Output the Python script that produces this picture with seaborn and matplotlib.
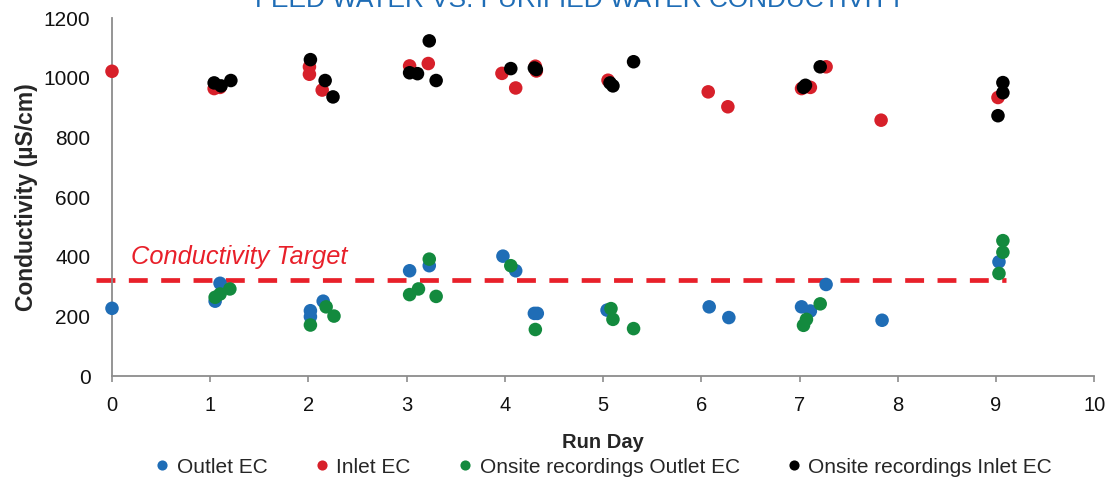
import matplotlib
matplotlib.use("Agg")
import matplotlib.pyplot as plt
import pandas as pd
import seaborn as sns

# data
outlet_day = [0.0, 1.05, 1.10, 2.02, 2.02, 2.15, 3.03, 3.23, 3.98, 4.11, 4.30, 4.33,
              5.04, 6.08, 6.28, 7.02, 7.11, 7.27, 7.84, 9.03]
outlet_ec = [227, 251, 311, 219, 199, 251, 353, 370, 402, 353, 210, 210,
             221, 232, 196, 232, 218, 307, 187, 383]

inlet_day = [0.0, 1.04, 1.10, 2.01, 2.01, 2.14, 3.03, 3.22, 3.97, 4.11, 4.31, 4.32,
             5.05, 6.07, 6.27, 7.02, 7.11, 7.27, 7.83, 9.02]
inlet_ec = [1022, 964, 968, 1037, 1012, 959, 1040, 1048, 1015, 966, 1039, 1023,
            992, 953, 903, 964, 968, 1037, 858, 934]

onsite_out_day = [1.05, 1.10, 1.20, 2.02, 2.18, 2.26, 3.03, 3.12, 3.23, 3.30, 4.06, 4.31,
                  5.08, 5.10, 5.31, 7.04, 7.07, 7.21, 9.03, 9.07, 9.07]
onsite_out_ec = [264, 275, 292, 171, 232, 201, 273, 292, 392, 267, 370, 156,
                 226, 190, 159, 170, 190, 242, 344, 415, 454]

onsite_in_day = [1.04, 1.11, 1.21, 2.02, 2.17, 2.25, 3.03, 3.11, 3.23, 3.30, 4.06, 4.30, 4.32,
                 5.07, 5.10, 5.31, 7.04, 7.06, 7.21, 9.07, 9.07, 9.02]
onsite_in_ec = [983, 973, 991, 1061, 991, 936, 1017, 1014, 1124, 991, 1031, 1033, 1028,
                983, 973, 1054, 968, 975, 1037, 984, 950, 873]

series_names = ["Outlet EC", "Inlet EC", "Onsite recordings Outlet EC", "Onsite recordings Inlet EC"]
series_colors = ["#1f6db6", "#d7202a", "#138a3e", "#000000"]
target_value = 322

frames = []
for name, days, vals in zip(series_names,
                            [outlet_day, inlet_day, onsite_out_day, onsite_in_day],
                            [outlet_ec, inlet_ec, onsite_out_ec, onsite_in_ec]):
    frames.append(pd.DataFrame({"day": days, "ec": vals, "series": name}))
df = pd.concat(frames, ignore_index=True)

sns.set_style("white")
plt.rcParams['font.family'] = ['Liberation Sans', 'DejaVu Sans']

fig = plt.figure(figsize=(11.2, 4.79), dpi=100)
ax = fig.add_axes([0.1, 0.215, 0.877, 0.747])

sns.scatterplot(data=df, x="day", y="ec", hue="series", hue_order=series_names,
                palette=series_colors, s=95, edgecolor="none", linewidth=0,
                clip_on=False, ax=ax, zorder=3)

# target line
ax.plot([-0.16, 9.1], [target_value, target_value], color="#e8202a", lw=3.4,
        ls=(0, (4.0, 2.85)), clip_on=False, zorder=2)
ax.text(0.19, 398, "Conductivity Target", color="#e8202a", fontsize=18.3,
        style="italic", va="center", ha="left")

ax.set_xlim(0, 10)
ax.set_ylim(0, 1200)
ax.set_xticks(range(0, 11))
ax.set_yticks(range(0, 1201, 200))
ax.tick_params(axis="x", direction="out", length=4, width=1.2, color="#8c8c8c",
               labelsize=14.5, pad=10.5, bottom=True, labelcolor="#111111")
ax.tick_params(axis="y", length=0, labelsize=15, pad=15.5, labelcolor="#111111")
for s in ["top", "right"]:
    ax.spines[s].set_visible(False)
for s in ["left", "bottom"]:
    ax.spines[s].set_color("#8c8c8c")
    ax.spines[s].set_linewidth(1.3)

ax.set_xlabel("Run Day", fontsize=14.5, fontweight="bold", labelpad=13)
ax.set_ylabel("Conductivity (µS/cm)", fontsize=16.5, fontweight="bold", labelpad=4)

handles, labels = ax.get_legend_handles_labels()
ax.legend(handles, labels, loc="center", bbox_to_anchor=(0.5, -0.255), ncol=4,
          frameon=False, fontsize=15, markerscale=0.75, handlelength=0.8,
          handletextpad=0.3, columnspacing=2.2, borderaxespad=0)

# title is clipped at the top edge, as in the source image
fig.text(0.518, 0.985, "FEED WATER VS. PURIFIED WATER CONDUCTIVITY", color="#1f6db6",
         fontsize=18.9, ha="center", va="baseline")

plt.savefig("out.png", dpi=100)
